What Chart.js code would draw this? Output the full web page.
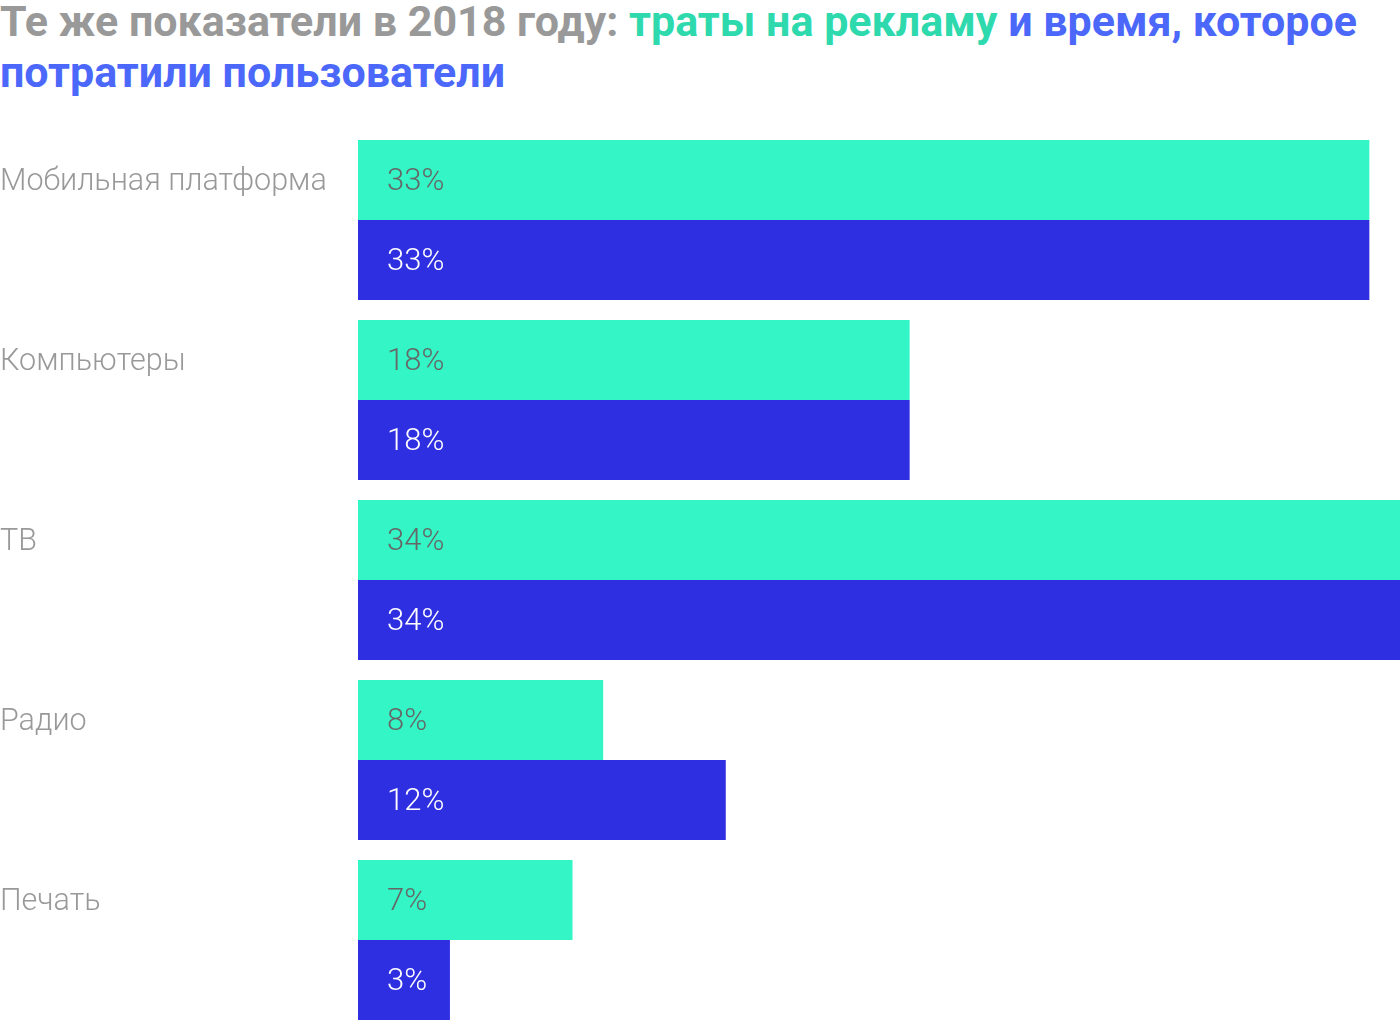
<!DOCTYPE html>
<html lang="ru">
<head>
<meta charset="utf-8">
<script src="https://cdn.jsdelivr.net/npm/chart.js@4/dist/chart.umd.min.js"></script>
<style>
    html, body { margin: 0; padding: 0; background: #fff; overflow: hidden; }
    body { width: 1400px; height: 1020px; position: relative; }
    .title {
        position: absolute; left: 0; top: -4px; width: 1400px;
        font-family: Roboto, 'Liberation Sans', sans-serif; font-weight: 700;
        font-size: 43px; line-height: 51px; color: #999999;
    }
    .green { color: #2ed9ad; }
    .blue { color: #4b68fa; }
    #chart { position: absolute; left: 0; top: 0; }
</style>
</head>
<body>
<div class="title">Те же показатели в 2018 году: <span class="green">траты на рекламу</span> <span class="blue">и время, которое потратили пользователи</span></div>
<canvas id="chart" width="1400" height="1030"></canvas>
<script>
// Data
const categories = ['Мобильная платформа', 'Компьютеры', 'ТВ', 'Радио', 'Печать'];
const adSpend = [33, 18, 34, 8, 7];
const timeSpent = [33, 18, 34, 12, 3];

const GREEN = '#33f5c6';
const BLUE = '#2f2fe2';

// Percent labels drawn inside each bar, near its base
const barLabels = {
    id: 'barLabels',
    afterDatasetsDraw(chart) {
        const ctx = chart.ctx;
        ctx.save();
        ctx.font = '300 31px Roboto, sans-serif';
        ctx.textBaseline = 'middle';
        ctx.textAlign = 'left';
        chart.data.datasets.forEach((ds, i) => {
            const meta = chart.getDatasetMeta(i);
            ctx.fillStyle = i === 0 ? '#666666' : '#ffffff';
            meta.data.forEach((bar, j) => {
                ctx.fillText(ds.data[j] + '%', bar.base + 29, bar.y + 2);
            });
        });
        ctx.restore();
    }
};

new Chart(document.getElementById('chart'), {
    type: 'bar',
    data: {
        labels: categories,
        datasets: [
            { label: 'Траты на рекламу', data: adSpend, backgroundColor: GREEN },
            { label: 'Время пользователей', data: timeSpent, backgroundColor: BLUE }
        ]
    },
    options: {
        indexAxis: 'y',
        responsive: false,
        animation: false,
        layout: { padding: { top: 130, right: 0, bottom: 0, left: 0 } },
        datasets: {
            bar: { categoryPercentage: 160 / 180, barPercentage: 1, borderWidth: 0 }
        },
        plugins: {
            legend: { display: false },
            tooltip: { enabled: false }
        },
        scales: {
            x: {
                display: false,
                min: 0,
                max: 34
            },
            y: {
                grid: { display: false },
                border: { display: false },
                afterFit(scale) {
                    scale.width = 358;
                    scale.paddingTop = 0;
                    scale.paddingBottom = 0;
                },
                ticks: {
                    crossAlign: 'far',
                    labelOffset: -38,
                    padding: 0,
                    color: '#999999',
                    font: { family: 'Roboto', size: 30.5, weight: 300 }
                }
            }
        }
    },
    plugins: [barLabels]
});
</script>
</body>
</html>
